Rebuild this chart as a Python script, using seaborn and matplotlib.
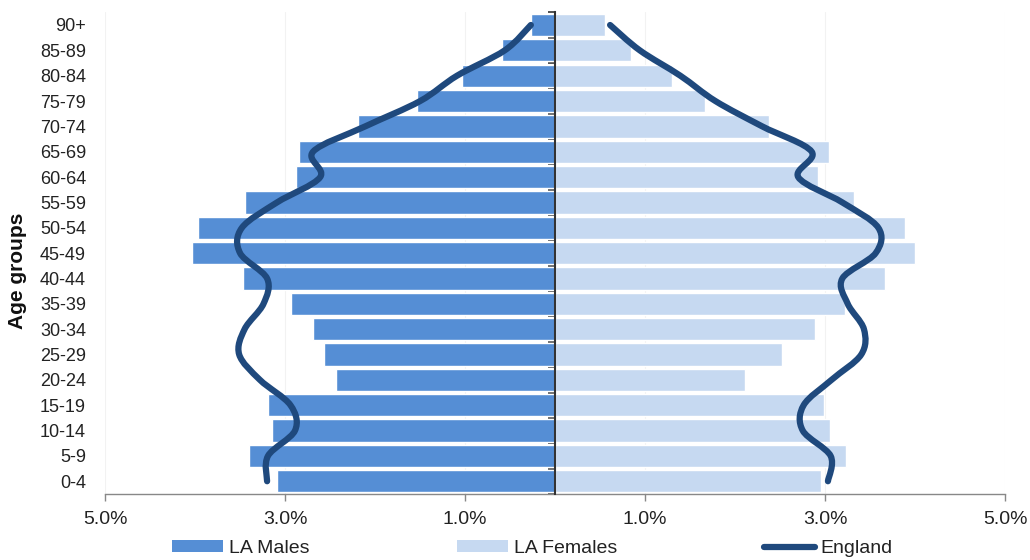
import matplotlib
matplotlib.use("Agg")
import matplotlib.pyplot as plt
from matplotlib.lines import Line2D
from matplotlib.patches import Patch, PathPatch
from matplotlib.path import Path
from matplotlib.ticker import FixedLocator, FuncFormatter
import numpy as np
import pandas as pd
import seaborn as sns

# ---------------------------------------------------------------------------
# Data (percent of total population), bottom age group first
# ---------------------------------------------------------------------------

age_groups = ["0-4", "5-9", "10-14", "15-19", "20-24", "25-29", "30-34",
              "35-39", "40-44", "45-49", "50-54", "55-59", "60-64", "65-69",
              "70-74", "75-79", "80-84", "85-89", "90+"]

la_males = [3.09, 3.40, 3.15, 3.19, 2.44, 2.57, 2.69, 2.93, 3.47, 4.03,
            3.97, 3.44, 2.88, 2.85, 2.19, 1.54, 1.03, 0.59, 0.27]
la_females = [2.95, 3.23, 3.05, 2.99, 2.11, 2.52, 2.89, 3.22, 3.66, 4.00,
              3.89, 3.32, 2.92, 3.04, 2.37, 1.66, 1.30, 0.84, 0.55]

england_males = [3.20, 3.19, 2.89, 2.94, 3.28, 3.51, 3.45, 3.24, 3.20, 3.50,
                 3.48, 3.09, 2.61, 2.69, 2.11, 1.50, 1.09, 0.56, 0.27]
england_females = [3.03, 3.06, 2.75, 2.76, 3.07, 3.40, 3.43, 3.25, 3.19, 3.56,
                   3.59, 3.19, 2.70, 2.85, 2.30, 1.78, 1.39, 0.94, 0.61]

x_ticks = [-5, -3, -1, 1, 3, 5]

MALE_COLOR = "#558ED5"
FEMALE_COLOR = "#C6D9F1"
ENGLAND_COLOR = "#1F497D"


def smooth_path(xs, ys):
    """Catmull-Rom style smoothed path through the points (like Excel)."""
    pts = np.column_stack([xs, ys])
    n = len(pts)
    verts = [pts[0]]
    codes = [Path.MOVETO]
    for i in range(n - 1):
        p0 = pts[max(i - 1, 0)]
        p1 = pts[i]
        p2 = pts[i + 1]
        p3 = pts[min(i + 2, n - 1)]
        verts += [p1 + (p2 - p0) / 6.0, p2 - (p3 - p1) / 6.0, p2]
        codes += [Path.CURVE4] * 3
    return Path(verts, codes)


sns.set_style("white")
plt.rcParams["font.family"] = ["Liberation Sans", "DejaVu Sans"]

df = pd.DataFrame({
    "age": age_groups,
    "males": [-v for v in la_males],
    "females": la_females,
})
order = age_groups[::-1]  # seaborn puts the first category on top

fig = plt.figure(figsize=(10.3, 5.6), dpi=100)
ax = fig.add_axes([0.102, 0.118, 0.874, 0.860])

sns.barplot(data=df, x="males", y="age", order=order, orient="h",
            color=MALE_COLOR, saturation=1, width=0.88, ax=ax, zorder=1)
sns.barplot(data=df, x="females", y="age", order=order, orient="h",
            color=FEMALE_COLOR, saturation=1, width=0.88, ax=ax, zorder=1)

# England reference lines (smoothed)
ypos = [order.index(a) for a in age_groups]
for vals in ([-v for v in england_males], england_females):
    patch = PathPatch(smooth_path(vals, ypos), fill=False, lw=4.5,
                      edgecolor=ENGLAND_COLOR, capstyle="round",
                      joinstyle="round", zorder=4)
    ax.add_patch(patch)

ax.set_xlim(-5, 5)
ax.set_ylim(len(order) - 0.5, -0.5)

# x axis
ax.xaxis.set_major_locator(FixedLocator(x_ticks))
ax.xaxis.set_major_formatter(FuncFormatter(lambda v, _: f"{abs(v):.1f}%"))
ax.tick_params(axis="x", which="major", bottom=True, length=5, width=1,
               color="#888888", labelsize=14, labelcolor="#222222", pad=7)
ax.set_xlabel("")
ax.grid(axis="x", color="#f2f2f2", lw=0.8)
ax.grid(axis="y", visible=False)
ax.set_axisbelow(True)

# y axis: labels on the far left, spine with ticks at zero
ax.set_ylabel("Age groups", fontsize=15, fontweight="bold", color="#111111")
ax.yaxis.set_label_coords(-0.087, 0.463)
ax.yaxis.set_minor_locator(FixedLocator(np.arange(-0.5, len(order), 1.0)))
ax.tick_params(axis="y", which="major", left=True, right=False, length=0,
               labelsize=13, labelcolor="#222222", pad=13.7)
ax.tick_params(axis="y", which="minor", left=False, right=True,
               direction="in", length=5, width=1.2, color="#333333")
ax.spines["right"].set_position(("data", 0))
ax.spines["right"].set_color("#333333")
ax.spines["right"].set_linewidth(1.5)
ax.spines["right"].set_zorder(3)
ax.spines["left"].set_visible(False)
ax.spines["top"].set_visible(False)
ax.spines["bottom"].set_color("#888888")
ax.spines["bottom"].set_linewidth(1)

handles = [
    Patch(facecolor=MALE_COLOR, edgecolor="none", label="LA Males"),
    Patch(facecolor=FEMALE_COLOR, edgecolor="none", label="LA Females"),
    Line2D([0], [0], color=ENGLAND_COLOR, lw=4.5, solid_capstyle="round",
           label="England"),
]
fig.legend(handles=handles, loc="center", bbox_to_anchor=(0.517, 0.0205),
           ncol=3, frameon=False, fontsize=14, handlelength=2.63,
           handleheight=0.6, handletextpad=0.3, columnspacing=7.55,
           labelcolor="#222222", borderpad=0.2)

fig.savefig("out.png", dpi=100)
